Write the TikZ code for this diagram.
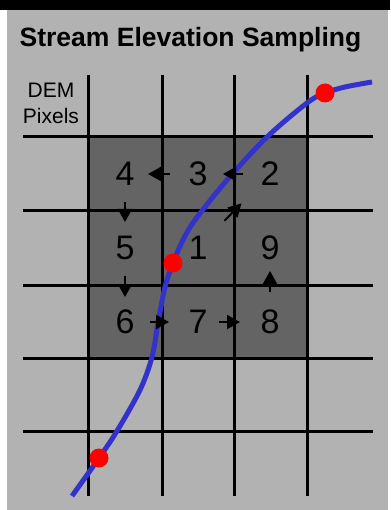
\documentclass[tikz,border=0pt]{standalone}
\usepackage{fontspec}
\setmainfont{Liberation Sans}
\usetikzlibrary{arrows.meta}
\definecolor{bg}{RGB}{178,178,178}
\definecolor{cellfill}{RGB}{100,100,100}
\definecolor{stream}{RGB}{51,51,204}
\begin{document}
\begin{tikzpicture}[x=1pt,y=-1pt,
  gridline/.style={line width=3pt, black},
  digit/.style={inner sep=0pt, font=\fontsize{34}{34}\selectfont},
  arr/.style={line width=2pt, -{Triangle[length=13pt,width=14pt]}},
  sample/.style={circle, fill=red, minimum size=19pt, inner sep=0pt},
  label/.style={inner sep=0pt, anchor=base}
]
\useasboundingbox (0,0) rectangle (390,510);
\fill[white] (0,0) rectangle (390,510);
\fill[black] (0,0) rectangle (390,10);
\fill[bg] (7,10) rectangle (388,510);
% shaded 3x3 block
\fill[cellfill] (88,137) rectangle (307,358);
% grid
\foreach \x in {88,162,234,307} \draw[gridline] (\x,75) -- (\x,496);
\foreach \y in {137,211,285,358,431} \draw[gridline] (23,\y) -- (373,\y);
% texts
\node[label, font=\bfseries\fontsize{26.5}{30}\selectfont] (title) at (190.5,47) {Stream Elevation Sampling};
\node[label, font=\fontsize{21}{25}\selectfont] (dem1) at (51,98) {DEM};
\node[label, font=\fontsize{21}{25}\selectfont] (dem2) at (51,124) {Pixels};
% stream
\draw[stream, line width=5pt] plot[smooth, tension=0.55] coordinates {(72,496) (99,458) (117,431) (140,390) (152,357) (158,323) (165,287) (173,263) (183,240) (195,220) (227,180) (267,137) (307,103) (325,93) (345,87) (372,82)};
% digits
\node[digit] (n4) at (125,174) {4};
\node[digit] (n3) at (198,174) {3};
\node[digit] (n2) at (270,174) {2};
\node[digit] (n5) at (125,248) {5};
\node[digit] (n1) at (198,248) {1};
\node[digit] (n9) at (270,248) {9};
\node[digit] (n6) at (125,322) {6};
\node[digit] (n7) at (198,322) {7};
\node[digit] (n8) at (270,322) {8};
% flow arrows
\draw[arr, shorten <=38pt, shorten >=41pt] (n1.center) -- (n2.center);
\draw[arr, shorten <=27pt, shorten >=25pt] (n2.center) -- (n3.center);
\draw[arr, shorten <=28pt, shorten >=23pt] (n3.center) -- (n4.center);
\draw[arr, shorten <=28pt, shorten >=26pt] (n4.center) -- (n5.center);
\draw[arr, shorten <=28pt, shorten >=25pt] (n5.center) -- (n6.center);
\draw[arr, shorten <=25pt, shorten >=29pt] (n6.center) -- (n7.center);
\draw[arr, shorten <=21pt, shorten >=30pt] (n7.center) -- (n8.center);
\draw[arr, shorten <=30pt, shorten >=23pt] (n8.center) -- (n9.center);
% sample points
\node[sample] (s1) at (325,93) {};
\node[sample] (s2) at (173,263) {};
\node[sample] (s3) at (99,458) {};
\end{tikzpicture}
\end{document}
